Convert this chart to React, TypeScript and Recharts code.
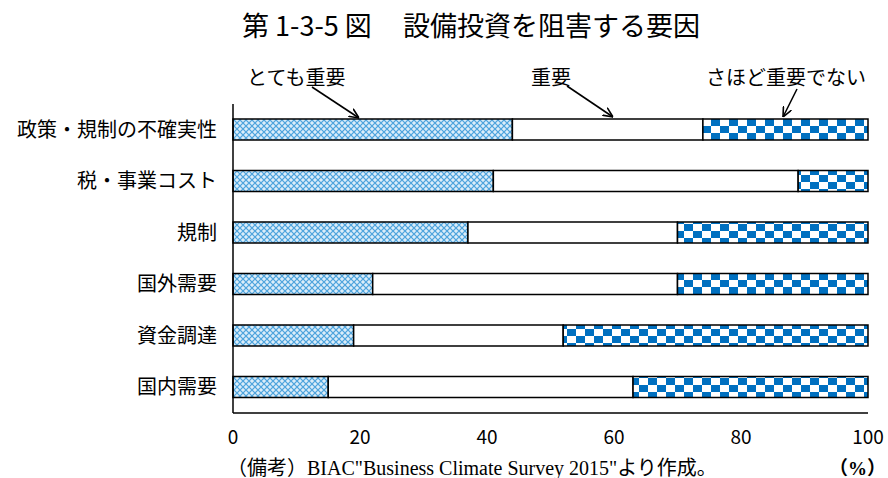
import React from 'react';
import { BarChart, Bar, XAxis, YAxis } from 'recharts';

// 設備投資を阻害する要因（回答割合, %）
const categories = ['政策・規制の不確実性', '税・事業コスト', '規制', '国外需要', '資金調達', '国内需要'];
const veryImportant = [44, 41, 37, 22, 19, 15];
const important = [30, 48, 33, 48, 33, 48];
const notVeryImportant = [26, 11, 30, 30, 48, 37];
const xTicks = [0, 20, 40, 60, 80, 100];
const seriesLabels = ['とても重要', '重要', 'さほど重要でない'];

const data = categories.map((name, i) => ({
  name,
  very: veryImportant[i],
  imp: important[i],
  notVery: notVeryImportant[i],
}));

const CJK = "'Noto Sans CJK JP', 'Noto Sans', sans-serif";
const SERIF = "'Liberation Serif', 'DejaVu Serif', 'Noto Sans CJK JP', serif";

// 凡例の代わりに系列名と矢印を配置する
const callouts = [
  { label: seriesLabels[0], tx: 247, ty: 76, x1: 312, y1: 87, x2: 359, y2: 118 },
  { label: seriesLabels[1], tx: 531, ty: 76, x1: 567, y1: 86, x2: 613, y2: 117 },
  { label: seriesLabels[2], tx: 706, ty: 76, x1: 797, y1: 89, x2: 783, y2: 117 },
];

export default function App() {
  return (
    <div style={{ position: 'absolute', left: 0, top: 0, width: 888, height: 478, background: '#fff' }}>
      <BarChart
        width={888}
        height={478}
        data={data}
        layout="vertical"
        margin={{ top: 104, right: 20, bottom: 35, left: 8 }}
        barSize={21}
      >
        <defs>
          <pattern id="patVery" width="6" height="6" patternUnits="userSpaceOnUse">
            <rect width="6" height="6" fill="#cfe7f8" />
            <path d="M0,0 L6,6 M6,0 L0,6" stroke="#4aa2dc" strokeWidth="1.1" />
            <rect x="2.5" y="-0.5" width="1" height="1" fill="#ffffff" />
            <rect x="-0.5" y="2.5" width="1" height="1" fill="#ffffff" />
            <rect x="5.5" y="2.5" width="1" height="1" fill="#ffffff" />
            <rect x="2.5" y="5.5" width="1" height="1" fill="#ffffff" />
          </pattern>
          <pattern id="patNot" width="18" height="14" patternUnits="userSpaceOnUse">
            <rect width="18" height="14" fill="#ffffff" />
            <rect x="0" y="0" width="9" height="7" fill="#0070c0" />
            <rect x="9" y="7" width="9" height="7" fill="#0070c0" />
          </pattern>
        </defs>
        <XAxis
          type="number"
          domain={[0, 100]}
          ticks={xTicks}
          tickLine={false}
          tickSize={0}
          tickMargin={18}
          axisLine={{ stroke: '#000', strokeWidth: 1.5 }}
          tick={{ fill: '#000', fontSize: 19, fontFamily: CJK }}
          interval={0}
        />
        <YAxis
          type="category"
          dataKey="name"
          width={225}
          tickLine={false}
          tickSize={0}
          tickMargin={16}
          axisLine={{ stroke: '#000', strokeWidth: 1.5 }}
          tick={{ fill: '#000', fontSize: 20, fontFamily: CJK }}
          interval={0}
        />
        <Bar dataKey="very" stackId="a" fill="url(#patVery)" stroke="#000" strokeWidth={1.5} isAnimationActive={false} />
        <Bar dataKey="imp" stackId="a" fill="#ffffff" stroke="#000" strokeWidth={1.5} isAnimationActive={false} />
        <Bar dataKey="notVery" stackId="a" fill="url(#patNot)" stroke="#000" strokeWidth={1.5} isAnimationActive={false} />
      </BarChart>
      <svg
        width={888}
        height={478}
        style={{ position: 'absolute', left: 0, top: 0, pointerEvents: 'none' }}
      >
        <defs>
          <marker
            id="openArrow"
            viewBox="0 0 10 10"
            refX="10"
            refY="5"
            markerWidth="10"
            markerHeight="10"
            markerUnits="userSpaceOnUse"
            orient="auto"
          >
            <path d="M0,0.5 L10,5 L0,9.5" fill="none" stroke="#000" strokeWidth="1.6" />
          </marker>
        </defs>
        <text x={242} y={24} fontSize={27} fontFamily={CJK} fill="#000" dominantBaseline="central">
          第 1-3-5 図
        </text>
        <text x={403} y={24} fontSize={27} fontFamily={CJK} fill="#000" dominantBaseline="central">
          設備投資を阻害する要因
        </text>
        {callouts.map((c) => (
          <g key={c.label}>
            <text x={c.tx} y={c.ty} fontSize={20} fontFamily={CJK} fill="#000" dominantBaseline="central">
              {c.label}
            </text>
            <line x1={c.x1} y1={c.y1} x2={c.x2} y2={c.y2} stroke="#000" strokeWidth={1.6} markerEnd="url(#openArrow)" />
          </g>
        ))}
        <text x={227} y={468} fontSize={20} fontFamily={SERIF} fill="#000" dominantBaseline="central">
          （備考）BIAC"Business Climate Survey 2015"より作成。
        </text>
        <text x={886} y={468} fontSize={19} fontFamily={SERIF} fontWeight="bold" fill="#000" textAnchor="end" dominantBaseline="central">
          （%）
        </text>
      </svg>
    </div>
  );
}
